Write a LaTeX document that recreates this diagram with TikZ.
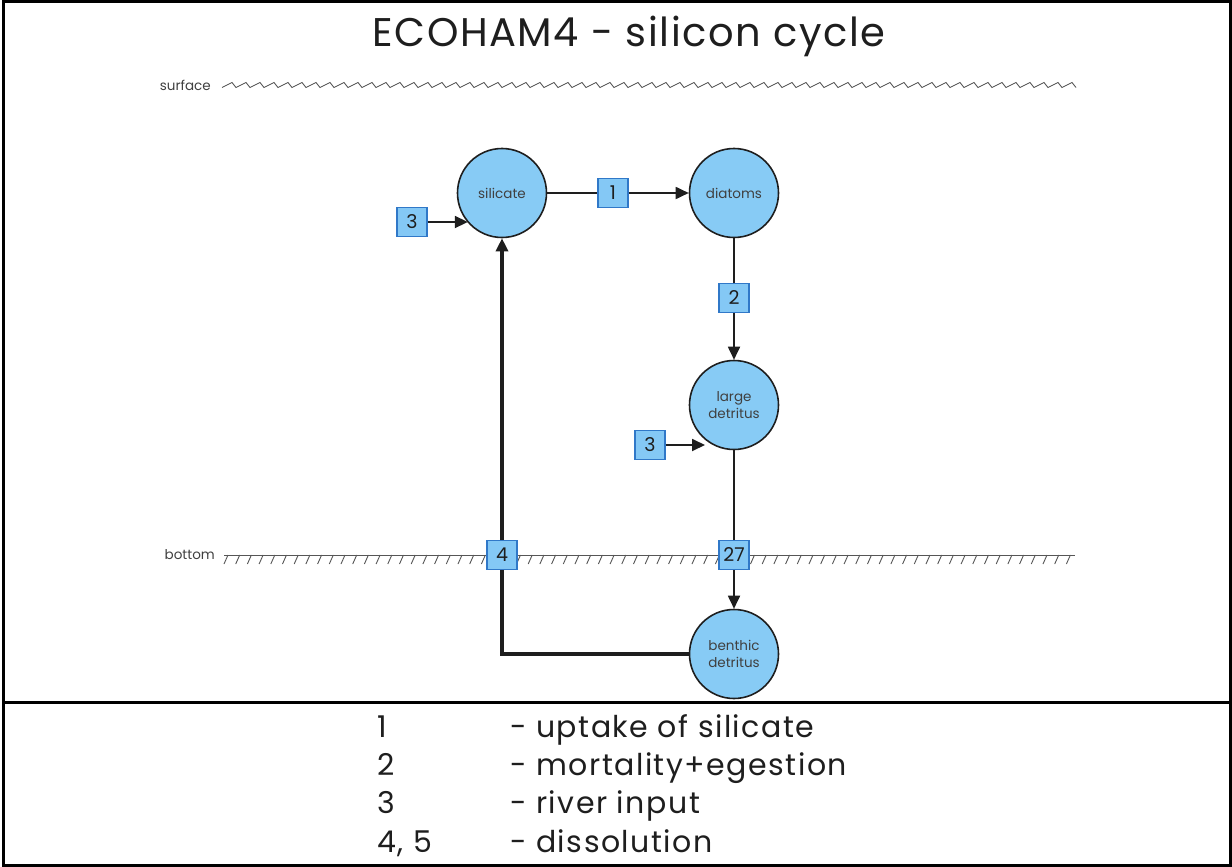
\documentclass[tikz,border=0pt]{standalone}
\usepackage{fontspec}
\setmainfont{Poppins}
\newfontfamily\titlefont[LetterSpace=4]{Poppins}
\newfontfamily\legendfont[LetterSpace=5]{Poppins}
\usetikzlibrary{arrows.meta}
\definecolor{cfill}{RGB}{135,203,245}
\definecolor{bfill}{RGB}{132,200,245}
\definecolor{bblue}{RGB}{48,120,200}
\definecolor{ink}{RGB}{30,30,30}
\begin{document}
\begin{tikzpicture}[x=1pt,y=-1pt,
  proc/.style={circle, draw=ink, line width=1.6pt, fill=cfill, minimum size=89pt, inner sep=0pt,
    font=\fontsize{13.5}{17}\selectfont, align=center, text=ink!85},
  num/.style={rectangle, draw=bblue, line width=1.4pt, fill=bfill, minimum width=30pt,
    minimum height=29pt, inner sep=0pt, font=\fontsize{19}{19}\selectfont, text=ink},
  flow/.style={line width=1.8pt, draw=ink},
  arr/.style={flow, -{Triangle[length=13pt,width=12pt]}},
  thickflow/.style={line width=3.2pt, draw=ink},
  thickarr/.style={thickflow, -{Triangle[length=13pt,width=12pt]}},
  wave/.style={line width=0.8pt, draw=ink!80},
  hatchline/.style={line width=0.9pt, draw=ink!75},
  lbl/.style={font=\fontsize{13.5}{15}\selectfont, text=ink!85},
  legend/.style={font=\legendfont\fontsize{30}{32}\selectfont, text=ink, anchor=base west, inner sep=0pt},
  frame/.style={line width=3pt, draw=black}
]
\useasboundingbox (0,0) rectangle (1232,867);
\fill[white] (0,0) rectangle (1232,867);
% frame
\draw[frame] (3.5,2) rectangle (1230.5,865.5);
\draw[frame] (3.5,702) -- (1230.5,702);
% title
\node[font=\titlefont\fontsize{40}{42}\selectfont, anchor=base, inner sep=0pt, text=ink] (title) at (629,47) {ECOHAM4 - silicon cycle};
% surface
\node[lbl, anchor=east, inner sep=0pt] (surf) at (211,85) {surface};
\draw[wave] (222,87.5) \foreach \i in {0,...,60}{ -- ++(10,-5) -- ++(4,5) };
% bottom
\node[lbl, anchor=east, inner sep=0pt] (bot) at (215,555) {bottom};
\draw[hatchline] (224,555) -- (1075,555);
\foreach \i in {0,...,72} \draw[hatchline] ({228+11.7*\i},555) -- ++(-4,9);
% compartments
\node[proc] (sil) at (502,193) {silicate};
\node[proc] (dia) at (734,193) {diatoms};
\node[proc] (ld) at (734,405) {large\\detritus};
\node[proc] (bd) at (734,654) {benthic\\detritus};
% process boxes
\node[num] (b1) at (613,193) {1};
\node[num] (b3a) at (412,222) {3};
\node[num] (b2) at (734,298) {2};
\node[num] (b3b) at (650,445) {3};
\node[num] (b4) at (502,555) {4};
\node[num] (b27) at (734,555) {27};
\coordinate (ld3) at (705,445);
% connectors
\draw[flow] (sil.east) -- (b1.west);
\draw[arr] (b1.east) -- (dia.west);
\draw[flow] (dia.south) -- (b2.north);
\draw[arr] (b2.south) -- (ld.north);
\draw[arr] (b3a.east) -- (b3a.east -| sil.221);
\draw[arr] (b3b.east) -- (ld3);
\draw[flow] (ld.south) -- (b27.north);
\draw[arr] (b27.south) -- (bd.north);
\draw[thickflow] (bd.west) -| (b4.south);
\draw[thickarr] (b4.north) -- (sil.south);
% legend
\node[legend] (l1n) at (377,737) {1};
\node[legend] (l1t) at (510,737) {- uptake of silicate};
\node[legend] (l2n) at (377,775) {2};
\node[legend] (l2t) at (510,775) {- mortality+egestion};
\node[legend] (l3n) at (377,813) {3};
\node[legend] (l3t) at (510,813) {- river input};
\node[legend] (l4n) at (377,852) {4, 5};
\node[legend] (l4t) at (510,852) {- dissolution};
\end{tikzpicture}
\end{document}
